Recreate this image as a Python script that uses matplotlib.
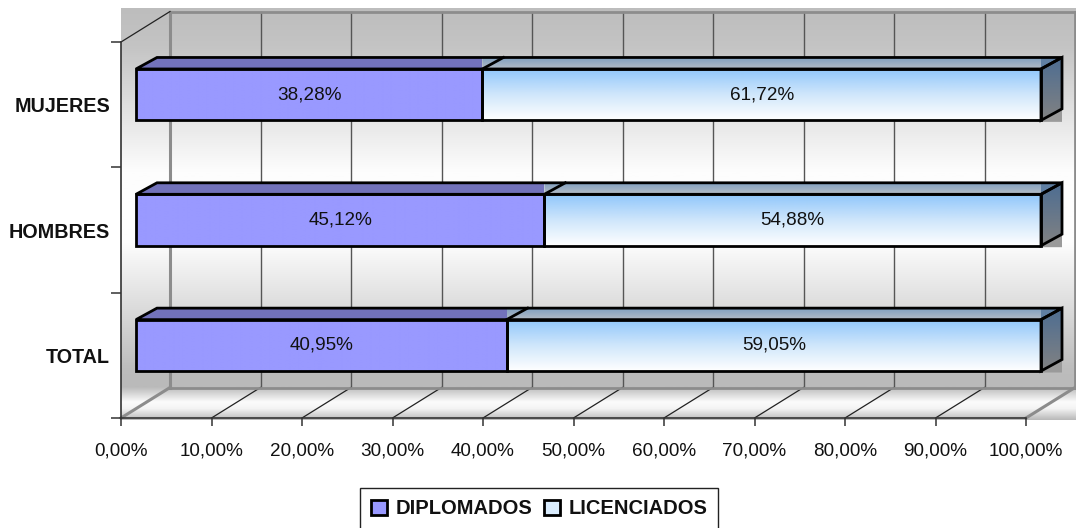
import numpy as np
import matplotlib
matplotlib.use("Agg")
import matplotlib.pyplot as plt
from matplotlib.colors import LinearSegmentedColormap
from matplotlib.patches import Polygon, Patch
from matplotlib.transforms import Affine2D, IdentityTransform
from matplotlib.lines import Line2D

categories = ["TOTAL", "HOMBRES", "MUJERES"]
diplomados = [40.95, 45.12, 38.28]
licenciados = [59.05, 54.88, 61.72]
diplomados_labels = ["40,95%", "45,12%", "38,28%"]
licenciados_labels = ["59,05%", "54,88%", "61,72%"]
xtick_values = [0, 10, 20, 30, 40, 50, 60, 70, 80, 90, 100]
xtick_labels = ["0,00%", "10,00%", "20,00%", "30,00%", "40,00%", "50,00%",
                "60,00%", "70,00%", "80,00%", "90,00%", "100,00%"]
legend_labels = ["DIPLOMADOS", "LICENCIADOS"]

W, H = 1076, 528
plt.rcParams["font.family"] = ["Liberation Sans", "DejaVu Sans"]
TXT = "#111111"
FS = 13.6

fig = plt.figure(figsize=(W / 100, H / 100), dpi=100, facecolor="white")
ax = fig.add_axes([121 / W, (H - 418) / H, 905 / W, 376 / H])
ax.set_xlim(0, 100)
ax.set_ylim(0, 3)
ax.patch.set_visible(False)
ax.set_autoscale_on(False)
for s in ["top", "right"]:
    ax.spines[s].set_visible(False)
for s in ["left", "bottom"]:
    ax.spines[s].set_color("#333333")
    ax.spines[s].set_linewidth(1.2)
    ax.spines[s].set_zorder(6)

ax.set_xticks(xtick_values, xtick_labels, fontsize=FS, color=TXT)
ax.set_yticks([0, 1, 2, 3], [""] * 4)
ax.set_yticks([0.5, 1.5, 2.5], categories, minor=True, fontsize=14.2, color=TXT, fontweight="bold")
ax.tick_params(axis="y", which="major", length=7, width=1.1, color="#333333")
ax.tick_params(axis="y", which="minor", length=0, pad=8)
ax.tick_params(axis="x", length=6, width=1.1, color="#333333", pad=12)

identity = IdentityTransform()
back = ax.transData + Affine2D().translate(49, 30.5)
front_bar = ax.transData + Affine2D().translate(15, 10)
back_bar = ax.transData + Affine2D().translate(36, 21.5)


def px(x, y):
    return x, H - y


def gradient(pts, stops, zorder):
    """Fill a polygon given in display coordinates with a vertical gradient."""
    pts = np.asarray(pts)
    cmap = LinearSegmentedColormap.from_list("g", stops)
    arr = np.linspace(0, 1, 256).reshape(-1, 1)
    im = ax.imshow(arr, cmap=cmap, origin="upper", aspect="auto", interpolation="bilinear",
                   extent=(pts[:, 0].min(), pts[:, 0].max(), pts[:, 1].min(), pts[:, 1].max()),
                   transform=identity, zorder=zorder)
    im.set_clip_box(fig.bbox)
    im.set_clip_path(Polygon(pts, closed=True, transform=identity))
    return im


def outline(pts, zorder, color="black", lw=2.0, closed=True):
    ax.add_patch(Polygon(pts, closed=closed, fill=False, edgecolor=color, linewidth=lw,
                         transform=identity, zorder=zorder, clip_on=False, joinstyle="miter"))


def line(p, q, color, lw, zorder):
    ax.add_line(Line2D([p[0], q[0]], [p[1], q[1]], color=color, linewidth=lw,
                       transform=identity, zorder=zorder, clip_on=False))


# Wall and floor backgrounds
wall_stops = [(0, "#bdbdbd"), (0.1, "#c4c4c4"), (0.43, "#fdfdfd"), (0.62, "#fdfdfd"), (0.95, "#bdbdbd"), (1, "#bababa")]
floor_stops = [(0, "#bababa"), (0.45, "#fbfbfb"), (0.65, "#f4f4f4"), (1, "#b8b8b8")]
x0, x1 = 121, 1076
gradient([px(x0, 8), px(x1, 8), px(x1, 387), px(x0, 387)], wall_stops, 0)
gradient([px(x0, 387), px(x1, 387), px(x1, 420), px(x0, 420)], floor_stops, 0)

# Gridlines on back wall and floor
GRID = "#555555"
for i, v in enumerate(xtick_values):
    b0 = back.transform((v, 0))
    b1 = back.transform((v, 3))
    f0 = ax.transData.transform((v, 0))
    edge = v in (xtick_values[0], xtick_values[-1])
    if v == xtick_values[0]:
        line(b0, b1, "#8c8c8c", 2.2, 1)
    elif v == xtick_values[-1]:
        line(b0, b1, "#8c8c8c", 2.0, 1)
    else:
        line(b0, b1, GRID, 1.0, 1)
    line(f0, b0, "#8c8c8c" if edge else "#222222", 2.2 if edge else 0.9, 1)

# Top edge of the wall, base of the wall, and top of the left wall
line(back.transform((0, 3)), back.transform((100, 3)), "#8c8c8c", 2.0, 1)
line(back.transform((0, 0)), back.transform((100, 0)), "#8c8c8c", 2.0, 1)
line(ax.transData.transform((0, 3)), back.transform((0, 3)), "#222222", 0.9, 1)

# Stacked 3-D bars
BAR = 0.41
PURPLE_STOPS = [(0, "#9999ff"), (1, "#9999ff")]
LIGHT_STOPS = [(0, "#8fc6fb"), (0.5, "#cfe6fb"), (1, "#ffffff")]
TOP_STOPS = [(0, "#7f9fc0"), (1, "#b4bcc6")]
SIDE_STOPS = [(0, "#4d6d92"), (1, "#828282")]

for i, (d, l) in enumerate(zip(diplomados, licenciados)):
    yb, yt = i + 0.5 - BAR / 2, i + 0.5 + BAR / 2
    total = d + l
    fl = front_bar.transform((0, yb))
    fl_t = front_bar.transform((0, yt))
    fs_b = front_bar.transform((d, yb))
    fs_t = front_bar.transform((d, yt))
    fr_b = front_bar.transform((total, yb))
    fr_t = front_bar.transform((total, yt))
    bl_t = back_bar.transform((0, yt))
    bs_t = back_bar.transform((d, yt))
    br_t = back_bar.transform((total, yt))
    br_b = back_bar.transform((total, yb))

    # soft shadow behind the right end
    ax.add_patch(Polygon([fr_b + np.array([0, -1.5]), (br_b[0], fr_b[1] - 1.5), br_b, fr_b],
                         closed=True, facecolor="#9a9a9a", edgecolor="none",
                         transform=identity, zorder=2, clip_on=False))

    # front faces
    gradient([fl, fs_b, fs_t, fl_t], PURPLE_STOPS, 3)
    gradient([fs_b, fr_b, fr_t, fs_t], LIGHT_STOPS, 3)

    # top faces
    gradient([(fs_t[0], fs_t[1]), fr_t, br_t, (fs_t[0], br_t[1])], TOP_STOPS, 3)
    ax.add_patch(Polygon([fl_t, fs_t, (fs_t[0], bs_t[1]), bl_t], closed=True, facecolor="#7272bb",
                         edgecolor="none", transform=identity, zorder=3.1, clip_on=False))
    ax.add_patch(Polygon([fr_t, (br_t[0], br_t[1]), (fr_t[0], br_t[1])], closed=True, facecolor="#5f7fa3",
                         edgecolor="none", transform=identity, zorder=3.1, clip_on=False))

    # right side face
    gradient([fr_b, br_b, br_t, fr_t], SIDE_STOPS, 3)

    # outlines
    outline([fl, fs_b, fs_t, fl_t], 5)
    outline([fs_b, fr_b, fr_t, fs_t], 5)
    outline([fl_t, bl_t, br_t, fr_t], 5)
    outline([fr_b, br_b, br_t, fr_t], 5)
    line(fs_t, bs_t, "black", 2.0, 5)

    # value labels
    ax.text(d / 2, i + 0.5, diplomados_labels[i], transform=front_bar, ha="center", va="center",
            fontsize=FS, color=TXT, zorder=7)
    ax.text(d + l / 2, i + 0.5, licenciados_labels[i], transform=front_bar, ha="center", va="center",
            fontsize=FS, color=TXT, zorder=7)

# Legend
handles = [Patch(facecolor="#9999ff", edgecolor="black", linewidth=2.0),
           Patch(facecolor="#d9ecfd", edgecolor="black", linewidth=2.0)]
leg = fig.legend(handles, legend_labels, loc="center",
                 bbox_to_anchor=(539 / W, (H - 509) / H), ncol=2, frameon=True, fancybox=False,
                 edgecolor="#222222", facecolor="white", framealpha=1,
                 prop={"size": 14.5, "weight": "bold"}, handlelength=0.8, handleheight=0.8,
                 handletextpad=0.4, columnspacing=0.6, borderpad=0.55, labelcolor=TXT)
leg.get_frame().set_linewidth(1.0)

fig.savefig("out.png", dpi=100)
